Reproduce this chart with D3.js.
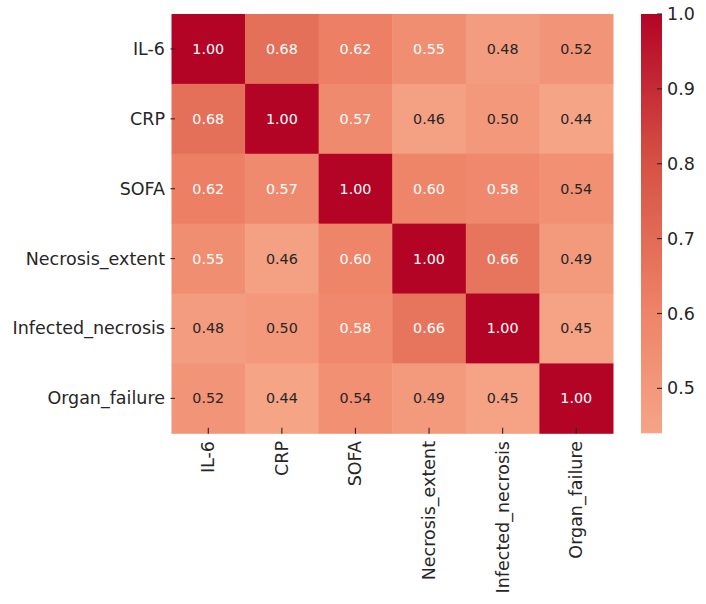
<!DOCTYPE html>
<html>
<head>
<meta charset="utf-8">
<script src="https://cdn.jsdelivr.net/npm/d3@7"></script>
<style>
  html, body { margin: 0; padding: 0; background: #ffffff; }
  svg { display: block; font-family: "DejaVu Sans", sans-serif; }
</style>
</head>
<body>
<svg id="chart" width="706" height="604"></svg>
<script>
// ---- data ----
const variables = ["IL-6", "CRP", "SOFA", "Necrosis_extent", "Infected_necrosis", "Organ_failure"];
const rowIL6      = [1.00, 0.68, 0.62, 0.55, 0.48, 0.52];
const rowCRP      = [0.68, 1.00, 0.57, 0.46, 0.50, 0.44];
const rowSOFA     = [0.62, 0.57, 1.00, 0.60, 0.58, 0.54];
const rowNecrosis = [0.55, 0.46, 0.60, 1.00, 0.66, 0.49];
const rowInfected = [0.48, 0.50, 0.58, 0.66, 1.00, 0.45];
const rowOrgan    = [0.52, 0.44, 0.54, 0.49, 0.45, 1.00];
const matrix = [rowIL6, rowCRP, rowSOFA, rowNecrosis, rowInfected, rowOrgan];
const colorbarTicks = [0.5, 0.6, 0.7, 0.8, 0.9, 1.0];

(function () {
// ---- colour map (coolwarm, centred at 0 -> range -1..1) ----
const coolwarmStops = ["#3b4cc0", "#5977e3", "#7b9ff9", "#9ebeff", "#c0d4f5", "#dddcdc",
                       "#f2cbb7", "#f7ac8e", "#ee8468", "#d65244", "#b40426"];
const cw = d3.scaleLinear()
  .domain(d3.range(coolwarmStops.length).map(i => i / (coolwarmStops.length - 1)))
  .range(coolwarmStops)
  .interpolate(d3.interpolateRgb);
const allVals = matrix.flat();
const vmin = d3.min(allVals), vmax = d3.max(allVals);
const color = v => cw((v + 1) / 2);

// ---- layout ----
const svg = d3.select("#chart");
const pLeft = 171.5, pRight = 613, pTop = 14, pBottom = 433.3;
const x = d3.scaleBand().domain(variables).range([pLeft, pRight]).padding(0);
const y = d3.scaleBand().domain(variables).range([pTop, pBottom]).padding(0);
const textDark = "#262626";
const labelSize = 17.5;

// cells
const cells = [];
matrix.forEach((row, i) => row.forEach((v, j) => cells.push({r: variables[i], c: variables[j], v})));

svg.append("g").selectAll("rect").data(cells).join("rect")
  .attr("x", d => x(d.c))
  .attr("y", d => y(d.r))
  .attr("width", x.bandwidth() + 0.5)
  .attr("height", y.bandwidth() + 0.5)
  .attr("fill", d => color(d.v));

svg.append("g").selectAll("text").data(cells).join("text")
  .attr("x", d => x(d.c) + x.bandwidth() / 2)
  .attr("y", d => y(d.r) + y.bandwidth() / 2)
  .attr("text-anchor", "middle")
  .attr("dominant-baseline", "central")
  .attr("font-size", 14.3)
  .attr("fill", d => d.v >= 0.545 ? "#ffffff" : textDark)
  .text(d => d.v.toFixed(2));

// y axis ticks & labels
const yg = svg.append("g");
variables.forEach(v => {
  const cy = y(v) + y.bandwidth() / 2;
  yg.append("line").attr("x1", pLeft - 1).attr("x2", pLeft + 3.5)
    .attr("y1", cy).attr("y2", cy).attr("stroke", textDark).attr("stroke-width", 1.1);
  yg.append("text").attr("x", 165).attr("y", cy)
    .attr("text-anchor", "end").attr("dominant-baseline", "central")
    .attr("font-size", labelSize).attr("fill", textDark).text(v);
});

// x axis ticks & labels
const xg = svg.append("g");
variables.forEach(v => {
  const cx = x(v) + x.bandwidth() / 2;
  xg.append("line").attr("x1", cx).attr("x2", cx)
    .attr("y1", pBottom - 5.5).attr("y2", pBottom + 0.5)
    .attr("stroke", textDark).attr("stroke-width", 1.1);
  xg.append("text")
    .attr("transform", `translate(${cx},441) rotate(-90)`)
    .attr("text-anchor", "end").attr("dominant-baseline", "central")
    .attr("font-size", labelSize).attr("fill", textDark).text(v);
});

// ---- colorbar ----
const cbLeft = 641, cbRight = 662;
const cyScale = d3.scaleLinear().domain([vmin, vmax]).range([pBottom, pTop]);
const defs = svg.append("defs");
const grad = defs.append("linearGradient").attr("id", "cbgrad")
  .attr("x1", 0).attr("y1", 1).attr("x2", 0).attr("y2", 0);
d3.range(0, 1.0001, 0.02).forEach(t => {
  grad.append("stop").attr("offset", t).attr("stop-color", color(vmin + t * (vmax - vmin)));
});
svg.append("rect").attr("x", cbLeft).attr("y", pTop)
  .attr("width", cbRight - cbLeft).attr("height", pBottom - pTop)
  .attr("fill", "url(#cbgrad)");

const cbg = svg.append("g");
colorbarTicks.forEach(t => {
  cbg.append("line").attr("x1", cbRight - 5).attr("x2", cbRight)
    .attr("y1", cyScale(t)).attr("y2", cyScale(t)).attr("stroke", textDark).attr("stroke-width", 1.1);
  cbg.append("text").attr("x", 667).attr("y", cyScale(t))
    .attr("dominant-baseline", "central").attr("font-size", labelSize).attr("fill", textDark)
    .text(t.toFixed(1));
});
})();
</script>
</body>
</html>
